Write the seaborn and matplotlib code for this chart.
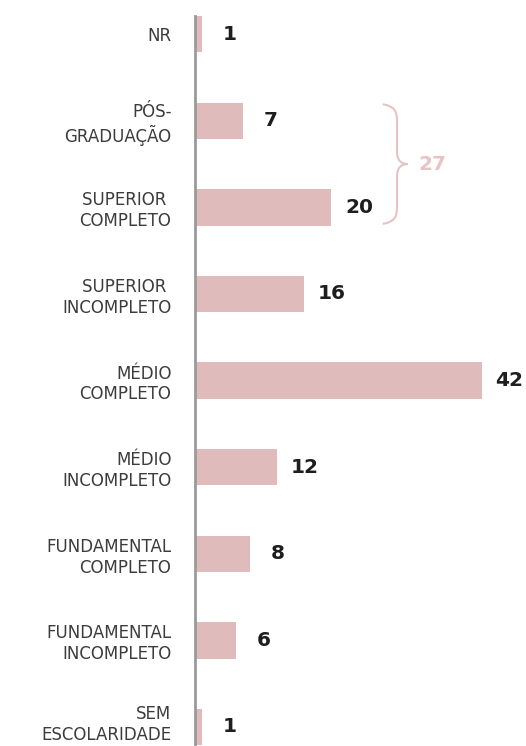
import matplotlib
matplotlib.use("Agg")
import matplotlib.pyplot as plt
import matplotlib.transforms as mtransforms
from matplotlib.path import Path
from matplotlib.patches import PathPatch
import seaborn as sns

categorias = ["NR", "PÓS-\nGRADUAÇÃO", "SUPERIOR \nCOMPLETO", "SUPERIOR \nINCOMPLETO",
              "MÉDIO\nCOMPLETO", "MÉDIO\nINCOMPLETO", "FUNDAMENTAL\nCOMPLETO",
              "FUNDAMENTAL\nINCOMPLETO", "SEM\nESCOLARIDADE"]
valores = [1, 7, 20, 16, 42, 12, 8, 6, 1]
grupo = [1, 2]  # pós-graduação + superior completo

rosa = "#e0bbbc"
rosa_claro = "#e8c3c3"

sns.set_style("white")
plt.rcParams["font.family"] = ["DejaVu Sans"]

fig = plt.figure(figsize=(5.26, 7.46), dpi=100)
ax = fig.add_axes([195 / 526, 0, 331 / 526, 730 / 746])

sns.barplot(x=valores, y=categorias, color=rosa, width=0.42, orient="h", ax=ax,
            saturation=1, linewidth=0)

ax.set_xlim(0, 48.5)
ax.set_ylim(8.22, -0.21)
for s in ["top", "right", "bottom"]:
    ax.spines[s].set_visible(False)
ax.spines["left"].set_color("#9a9a9a")
ax.spines["left"].set_linewidth(2)
ax.set_xticks([])
ax.set_xlabel("")
ax.set_ylabel("")
ax.tick_params(axis="y", length=0, pad=17)
for lbl in ax.get_yticklabels():
    lbl.set_fontsize(12)
    lbl.set_color("#3c3c3c")
    lbl.set_linespacing(1.2)
# último rótulo encosta na borda inferior: sobe um pouco
ultimo = ax.get_yticklabels()[-1]
ultimo.set_transform(ultimo.get_transform() +
                     mtransforms.ScaledTranslation(0, 4 / 72, fig.dpi_scale_trans))

for i, v in enumerate(valores):
    ax.annotate(str(v), (v, i), xytext=(20, 0), textcoords="offset points",
                ha="center", va="center", fontsize=14.5, fontweight="bold",
                color="#1e1e1e")

# chave agrupando pós-graduação e superior completo
total = sum(valores[i] for i in grupo)
x0 = max(valores[i] for i in grupo) + 7.5
x1 = x0 + 2.1
x2 = x0 + 3.7
y0 = grupo[0] - 0.19
y2 = grupo[1] + 0.19
ym = (y0 + y2) / 2
verts = [(x0, y0), (x1 - 0.3, y0 + 0.02), (x1, y0 + 0.09), (x1, y0 + 0.19),
         (x1, ym - 0.15),
         (x1, ym - 0.05), (x1 + 0.5, ym), (x2, ym),
         (x1 + 0.5, ym), (x1, ym + 0.05), (x1, ym + 0.15),
         (x1, y2 - 0.19),
         (x1, y2 - 0.09), (x1 - 0.3, y2 - 0.02), (x0, y2)]
codes = [Path.MOVETO, Path.CURVE4, Path.CURVE4, Path.CURVE4,
         Path.LINETO,
         Path.CURVE4, Path.CURVE4, Path.CURVE4,
         Path.CURVE4, Path.CURVE4, Path.CURVE4,
         Path.LINETO,
         Path.CURVE4, Path.CURVE4, Path.CURVE4]
ax.add_patch(PathPatch(Path(verts, codes), fill=False, edgecolor=rosa_claro,
                       linewidth=1.5, clip_on=False))
ax.text(x2 + 1.5, ym, str(total), ha="left", va="center", fontsize=14.5,
        fontweight="bold", color=rosa_claro)

fig.savefig("out.png", dpi=100)
